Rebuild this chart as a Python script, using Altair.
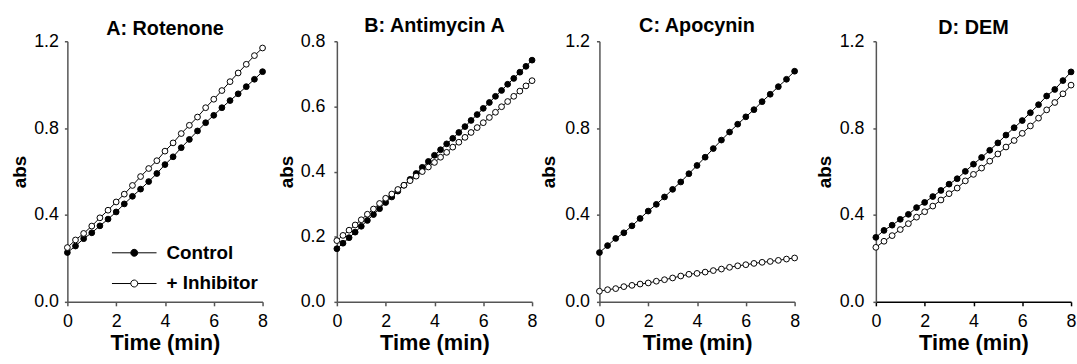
import altair as alt
import pandas as pd

FONT = "Liberation Sans"

# time grids (min)
t_third = [0, 0.333, 0.667, 1, 1.333, 1.667, 2, 2.333, 2.667, 3, 3.333, 3.667, 4,
           4.333, 4.667, 5, 5.333, 5.667, 6, 6.333, 6.667, 7, 7.333, 7.667, 8]
t_quarter = [0, 0.25, 0.5, 0.75, 1, 1.25, 1.5, 1.75, 2, 2.25, 2.5, 2.75, 3, 3.25, 3.5,
             3.75, 4, 4.25, 4.5, 4.75, 5, 5.25, 5.5, 5.75, 6, 6.25, 6.5, 6.75, 7, 7.25,
             7.5, 7.75, 8]

# A: Rotenone
a_control = [0.227, 0.257, 0.291, 0.318, 0.350, 0.381, 0.414, 0.451, 0.486, 0.519, 0.554,
             0.591, 0.632, 0.668, 0.710, 0.748, 0.787, 0.825, 0.859, 0.894, 0.927, 0.958,
             0.991, 1.025, 1.060]
a_inhib = [0.250, 0.285, 0.315, 0.349, 0.387, 0.422, 0.460, 0.496, 0.536, 0.577, 0.614,
           0.650, 0.694, 0.732, 0.775, 0.813, 0.851, 0.894, 0.933, 0.973, 1.014, 1.054,
           1.094, 1.134, 1.169]

# B: Antimycin A
b_control = [0.163, 0.180, 0.197, 0.214, 0.232, 0.250, 0.268, 0.286, 0.305, 0.322, 0.340,
             0.358, 0.376, 0.394, 0.413, 0.431, 0.450, 0.467, 0.485, 0.502, 0.520, 0.538,
             0.557, 0.575, 0.594, 0.612, 0.631, 0.649, 0.668, 0.686, 0.705, 0.723, 0.742]
b_inhib = [0.188, 0.204, 0.220, 0.236, 0.252, 0.269, 0.285, 0.302, 0.318, 0.331, 0.345,
           0.358, 0.372, 0.386, 0.400, 0.414, 0.428, 0.444, 0.459, 0.475, 0.490, 0.505,
           0.520, 0.535, 0.550, 0.566, 0.582, 0.599, 0.615, 0.631, 0.647, 0.663, 0.679]

# C: Apocynin
c_control = [0.227, 0.259, 0.292, 0.318, 0.350, 0.384, 0.418, 0.449, 0.483, 0.518, 0.552,
             0.590, 0.628, 0.666, 0.706, 0.745, 0.782, 0.818, 0.852, 0.885, 0.922, 0.956,
             0.991, 1.025, 1.062]
c_inhib = [0.049, 0.056, 0.061, 0.070, 0.076, 0.082, 0.087, 0.095, 0.102, 0.110, 0.119,
           0.127, 0.131, 0.137, 0.144, 0.151, 0.159, 0.166, 0.171, 0.177, 0.182, 0.186,
           0.191, 0.197, 0.202]

# D: DEM
d_control = [0.297, 0.329, 0.353, 0.380, 0.403, 0.434, 0.458, 0.485, 0.513, 0.542, 0.567,
             0.601, 0.634, 0.665, 0.698, 0.732, 0.768, 0.802, 0.835, 0.871, 0.908, 0.948,
             0.978, 1.019, 1.059]
d_inhib = [0.251, 0.279, 0.305, 0.333, 0.360, 0.390, 0.415, 0.441, 0.469, 0.498, 0.524,
           0.557, 0.587, 0.616, 0.648, 0.681, 0.713, 0.743, 0.776, 0.810, 0.846, 0.884,
           0.918, 0.958, 0.998]

titles = ["A: Rotenone", "B: Antimycin A", "C: Apocynin", "D: DEM"]
series_names = ["Control", "+ Inhibitor"]
x_ticks = [0, 2, 4, 6, 8]
y_ticks_12 = [0.0, 0.4, 0.8, 1.2]
y_ticks_08 = [0.0, 0.2, 0.4, 0.6, 0.8]

W, H = 197, 263

legend_path = ("M-5,0H-0.78M0.78,0H5M-0.78,0A0.78,0.78,0,1,1,0.78,0"
               "A0.78,0.78,0,1,1,-0.78,0Z")


def panel(title, t, ctrl, inh, ymax, yticks, title_dy, label_pad, title_pad,
          show_legend=False, xdomain_color="#555"):
    df = pd.DataFrame({
        "t": list(t) + list(t),
        "v": list(ctrl) + list(inh),
        "s": [series_names[0]] * len(t) + [series_names[1]] * len(t),
    })
    x = alt.X("t:Q", scale=alt.Scale(domain=[0, 8], nice=False, zero=False),
              axis=alt.Axis(values=x_ticks, title="Time (min)", format="d",
                            labelFlush=False, grid=False, tickSize=4,
                            labelPadding=7, titlePadding=2, titleFontSize=22,
                            domainColor=xdomain_color, tickColor=xdomain_color))
    y = alt.Y("v:Q", scale=alt.Scale(domain=[0, ymax], nice=False),
              axis=alt.Axis(values=yticks, title="abs", format=".1f",
                            labelFlush=False, grid=False, tickSize=3,
                            labelPadding=label_pad, titlePadding=title_pad,
                            titleFontSize=19))
    if show_legend:
        leg = alt.Legend(orient="none", legendX=58, legendY=204, title=None,
                         symbolType=legend_path, symbolSize=81,
                         symbolStrokeColor="black", symbolStrokeWidth=1,
                         labelFont=FONT, labelFontSize=19, labelFontWeight="bold",
                         labelColor="black", labelOffset=23, rowPadding=11,
                         padding=0)
    else:
        leg = None
    fill = alt.Fill("s:N", scale=alt.Scale(domain=series_names,
                                           range=["black", "white"]),
                    legend=leg)
    lines = alt.Chart(df).mark_line(color="black", strokeWidth=1).encode(
        x=x, y=y, detail="s:N")
    pts = alt.Chart(df).mark_point(shape="circle", filled=True, size=34,
                                   stroke="black", strokeWidth=1,
                                   opacity=1).encode(x=x, y=y, fill=fill)
    return alt.layer(lines, pts).properties(
        width=W, height=H,
        title=alt.TitleParams(title, font=FONT, fontSize=20, fontWeight="bold",
                              color="black", offset=0, dy=title_dy,
                              anchor="middle"),
    ).resolve_scale(fill="independent")


pA = panel(titles[0], t_third, a_control, a_inhib, 1.2, y_ticks_12, 7, 6, 4,
           show_legend=True)
pB = panel(titles[1], t_quarter, b_control, b_inhib, 0.8, y_ticks_08, 4, 9, 4)
pC = panel(titles[2], t_third, c_control, c_inhib, 1.2, y_ticks_12, 4, 7, 6)
pD = panel(titles[3], t_third, d_control, d_inhib, 1.2, y_ticks_12, 6, 9, 5,
           xdomain_color="black")

ab = alt.hconcat(pA, pB, spacing=8).resolve_scale(fill="independent")
abc = alt.hconcat(ab, pC, spacing=1).resolve_scale(fill="independent")
chart = alt.hconcat(abc, pD, spacing=14).resolve_scale(
    fill="independent"
).properties(
    padding={"left": 10, "top": 15, "right": 0, "bottom": 0},
    background="white",
).configure_view(stroke=None).configure_axis(
    labelFont=FONT, labelFontSize=18, labelColor="black",
    titleFont=FONT, titleFontWeight="bold", titleColor="black",
    domainColor="#555", domainWidth=1.5, tickColor="#555", tickWidth=1.5,
)

chart.save("out.html", embed_options={"renderer": "svg", "actions": False})
